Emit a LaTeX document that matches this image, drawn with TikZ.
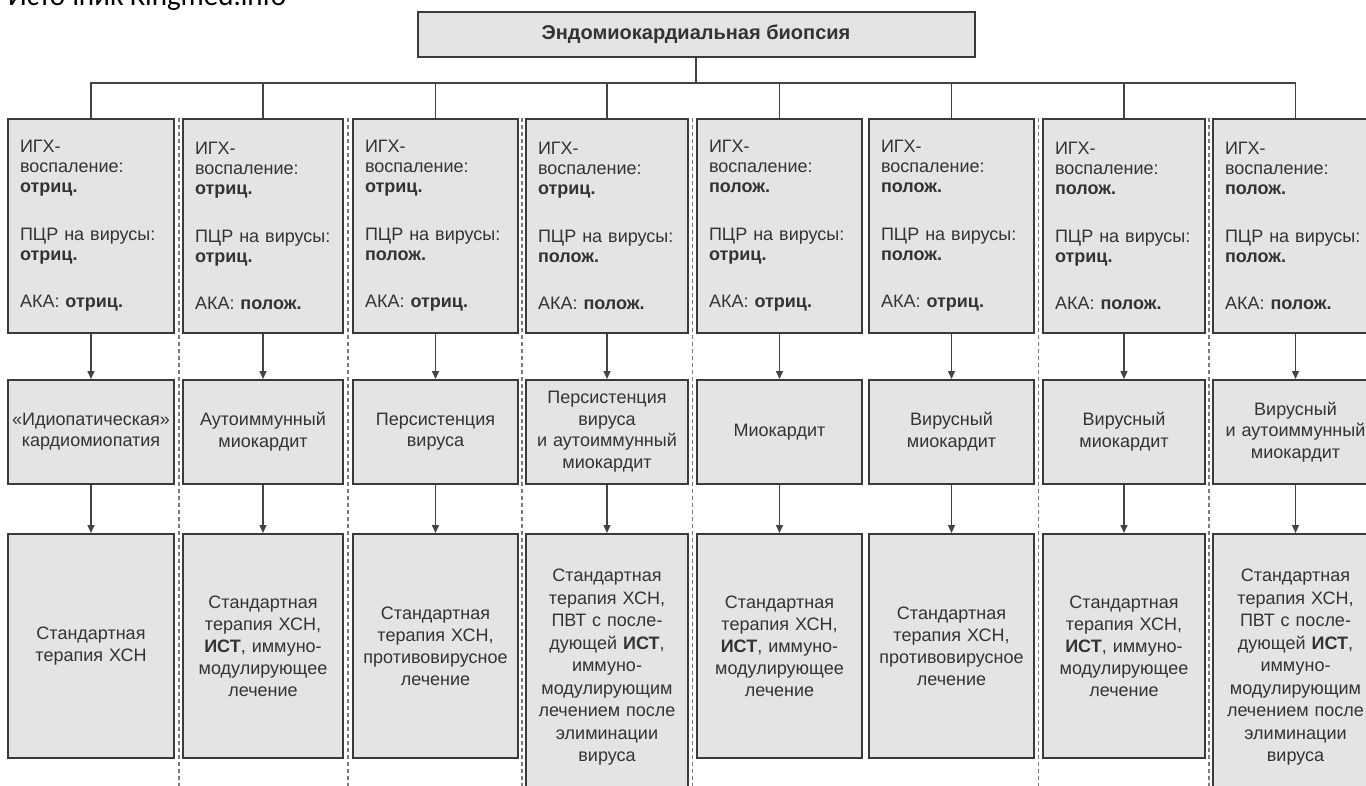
\documentclass[tikz,border=0pt]{standalone}
\usepackage{fontspec}
\setmainfont{Liberation Sans}
\newfontfamily\srcfont{Carlito}
\usetikzlibrary{arrows.meta}
\definecolor{boxfill}{HTML}{E4E4E4}
\definecolor{boxline}{HTML}{3A3A3A}
\definecolor{txt}{HTML}{333333}
\definecolor{connc}{HTML}{444444}
\definecolor{dashc}{HTML}{7A7A7A}
\newcommand\toptext[3]{ИГХ-\\воспаление:\\\textbf{#1}\\[27.5pt]ПЦР на вирусы:\\\textbf{#2}\\[27.5pt]АКА: \textbf{#3}}
\begin{document}
\begin{tikzpicture}[x=1pt,y=-1pt,
  box/.style={draw=boxline, fill=boxfill, line width=1.8pt, text=txt, inner sep=0pt},
  titlebox/.style={box, line width=2pt, minimum width=557pt, minimum height=45pt, font=\bfseries\fontsize{20}{22}\selectfont},
  topbox/.style={box, anchor=north, minimum height=214pt, align=left, inner xsep=12pt, font=\fontsize{18}{20}\selectfont},
  midbox/.style={box, anchor=north, minimum height=104pt, align=center, inner xsep=3pt, font=\fontsize{18}{21.5}\selectfont},
  lowbox/.style={box, anchor=north, minimum height=224pt, align=center, inner xsep=3pt, font=\fontsize{18}{22}\selectfont},
  longbox/.style={lowbox, minimum height=267pt, font=\fontsize{18}{22.5}\selectfont},
  conn/.style={draw=connc, line width=1.5pt},
  arr/.style={conn, -{Triangle[length=8pt,width=7pt]}},
  sepline/.style={draw=dashc, line width=1.3pt, dash pattern=on 4pt off 3pt}
]
\useasboundingbox (0,0) rectangle (1366,785);
\clip (0,0) rectangle (1366,785);
\fill[white] (0,0) rectangle (1366,785);

% source caption (cut by the top edge, as in the reference)
\node[anchor=base west, inner sep=0pt, text=black, font=\srcfont\fontsize{29}{31}\selectfont] (src) at (8,5) {Источник Kingmed.info};

% dashed separators
\foreach \xx in {179,348,522,692.5,1038.5,1209}
  \draw[sepline] (\xx,118) -- (\xx,790);

% title
\node[titlebox] (title) at (696,34) {Эндомиокардиальная биопсия};

% top row
\node[topbox, text width=142pt] (t1) at (91,118)     {\toptext{отриц.}{отриц.}{отриц.}};
\node[topbox, text width=136pt] (t2) at (263,118)    {\toptext{отриц.}{отриц.}{полож.}};
\node[topbox, text width=141pt] (t3) at (435.5,118)  {\toptext{отриц.}{полож.}{отриц.}};
\node[topbox, text width=138pt] (t4) at (607,118)    {\toptext{отриц.}{полож.}{полож.}};
\node[topbox, text width=141pt] (t5) at (779.5,118)  {\toptext{полож.}{отриц.}{отриц.}};
\node[topbox, text width=141pt] (t6) at (951.5,118)  {\toptext{полож.}{полож.}{отриц.}};
\node[topbox, text width=138pt] (t7) at (1124,118)   {\toptext{полож.}{отриц.}{полож.}};
\node[topbox, text width=141pt] (t8) at (1295.5,118) {\toptext{полож.}{полож.}{полож.}};

% middle row
\node[midbox, text width=160pt] (m1) at (91,379)     {«Идиопатическая»\\кардиомиопатия};
\node[midbox, text width=154pt] (m2) at (263,379)    {Аутоиммунный\\миокардит};
\node[midbox, text width=159pt] (m3) at (435.5,379)  {Персистенция\\вируса};
\node[midbox, text width=156pt] (m4) at (607,379)    {Персистенция\\вируса\\и аутоиммунный\\миокардит};
\node[midbox, text width=159pt] (m5) at (779.5,379)  {Миокардит};
\node[midbox, text width=159pt] (m6) at (951.5,379)  {Вирусный\\миокардит};
\node[midbox, text width=156pt] (m7) at (1124,379)   {Вирусный\\миокардит};
\node[midbox, text width=159pt] (m8) at (1295.5,379) {Вирусный\\и аутоиммунный\\миокардит};

% bottom row
\node[lowbox, text width=160pt] (b1) at (91,533)     {Стандартная\\терапия ХСН};
\node[lowbox, text width=154pt] (b2) at (263,533)    {Стандартная\\терапия ХСН,\\\textbf{ИСТ}, иммуно-\\модулирующее\\лечение};
\node[lowbox, text width=159pt] (b3) at (435.5,533)  {Стандартная\\терапия ХСН,\\противовирусное\\лечение};
\node[longbox, text width=156pt] (b4) at (607,533)   {Стандартная\\терапия ХСН,\\ПВТ с после-\\дующей \textbf{ИСТ},\\иммуно-\\модулирующим\\лечением после\\элиминации\\вируса};
\node[lowbox, text width=159pt] (b5) at (779.5,533)  {Стандартная\\терапия ХСН,\\\textbf{ИСТ}, иммуно-\\модулирующее\\лечение};
\node[lowbox, text width=159pt] (b6) at (951.5,533)  {Стандартная\\терапия ХСН,\\противовирусное\\лечение};
\node[lowbox, text width=156pt] (b7) at (1124,533)   {Стандартная\\терапия ХСН,\\\textbf{ИСТ}, иммуно-\\модулирующее\\лечение};
\node[longbox, text width=159pt] (b8) at (1295.5,533) {Стандартная\\терапия ХСН,\\ПВТ с после-\\дующей \textbf{ИСТ},\\иммуно-\\модулирующим\\лечением после\\элиминации\\вируса};

% bus from the title
\coordinate (bus) at (696,83);
\draw[conn] (title.south) -- (title.south |- bus);
\draw[conn] (t1.north) -- (t1.north |- bus) -- (t8.north |- bus) -- (t8.north);
\foreach \i in {2,...,7}
  \draw[conn] (t\i.north) -- (t\i.north |- bus);

% arrows
\foreach \i in {1,...,8} {
  \draw[arr] (t\i) -- (m\i);
  \draw[arr] (m\i) -- (b\i);
}
\end{tikzpicture}
\end{document}
